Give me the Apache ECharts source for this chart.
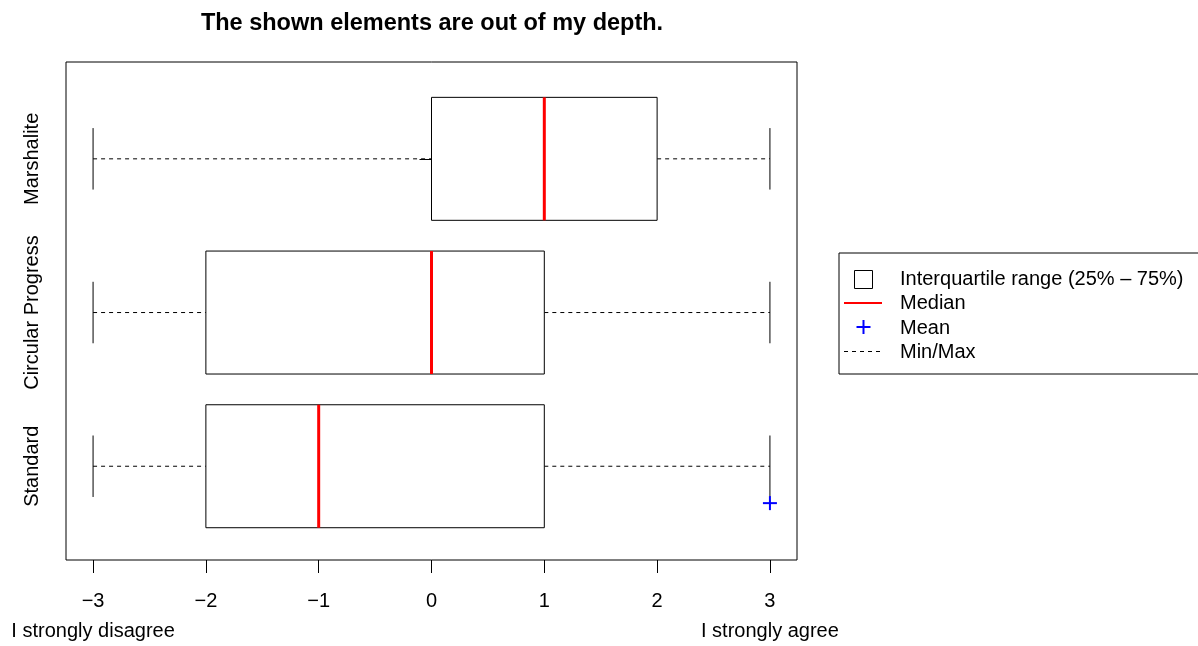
<!DOCTYPE html>
<html>
<head>
<meta charset="utf-8">
<script src="https://cdn.jsdelivr.net/npm/echarts@6/dist/echarts.min.js"></script>
<style>
  html, body { margin: 0; padding: 0; background: #fff; }
  #chart { width: 1198px; height: 646px; }
</style>
</head>
<body>
<div id="chart"></div>
<script>
// Rating scale summary per design
const categories = ['Standard', 'Circular Progress', 'Marshalite'];
const positions = [1, 2, 3];
const minValues = [-3, -3, -3];
const q1Values = [-2, -2, 0];
const medianValues = [-1, 0, 1];
const q3Values = [1, 1, 2];
const maxValues = [3, 3, 3];
// mean marker as plotted (x, y)
const meanMarkers = [[3, 0.76]];
const xTicks = [-3, -2, -1, 0, 1, 2, 3];
const scaleEnds = { '-3': 'I strongly disagree', '3': 'I strongly agree' };
const legendLabels = ['Interquartile range (25% \u2013 75%)', 'Median', 'Mean', 'Min/Max'];

const FONT = 'Liberation Sans, Arial, Helvetica, sans-serif';
const BOX_HALF = 0.4;
const CAP_HALF = 0.2;
const PLUS_HALF = 7;

const rows = positions.map((p, i) => [p, minValues[i], q1Values[i], medianValues[i], q3Values[i], maxValues[i]]);

function whiskerItem(params, api) {
  const y = api.value(0);
  const pMin = api.coord([api.value(1), y]);
  const pQ1 = api.coord([api.value(2), y]);
  const pQ3 = api.coord([api.value(4), y]);
  const pMax = api.coord([api.value(5), y]);
  const capTop = api.coord([api.value(1), y + CAP_HALF])[1];
  const capBot = api.coord([api.value(1), y - CAP_HALF])[1];
  const dash = { stroke: '#000', lineWidth: 1, lineDash: [4, 4] };
  const solid = { stroke: '#000', lineWidth: 1 };
  return {
    type: 'group',
    children: [
      { type: 'line', shape: { x1: pMin[0], y1: pMin[1], x2: pQ1[0], y2: pQ1[1] }, style: dash },
      { type: 'line', shape: { x1: pQ3[0], y1: pQ3[1], x2: pMax[0], y2: pMax[1] }, style: dash },
      { type: 'line', shape: { x1: pMin[0], y1: capTop, x2: pMin[0], y2: capBot }, style: solid },
      { type: 'line', shape: { x1: pMax[0], y1: capTop, x2: pMax[0], y2: capBot }, style: solid }
    ]
  };
}

function boxItem(params, api) {
  const y = api.value(0);
  const tl = api.coord([api.value(2), y + BOX_HALF]);
  const br = api.coord([api.value(4), y - BOX_HALF]);
  return {
    type: 'rect',
    shape: { x: tl[0], y: tl[1], width: br[0] - tl[0], height: br[1] - tl[1] },
    style: { fill: '#fff', stroke: '#000', lineWidth: 1 }
  };
}

function medianItem(params, api) {
  const y = api.value(0);
  const top = api.coord([api.value(3), y + BOX_HALF]);
  const bot = api.coord([api.value(3), y - BOX_HALF]);
  return {
    type: 'line',
    shape: { x1: top[0], y1: top[1], x2: bot[0], y2: bot[1] },
    style: { stroke: '#ff0000', lineWidth: 3 }
  };
}

function meanItem(params, api) {
  const p = api.coord([api.value(0), api.value(1)]);
  const st = { stroke: '#0000ff', lineWidth: 2 };
  return {
    type: 'group',
    children: [
      { type: 'line', shape: { x1: p[0], y1: p[1] - PLUS_HALF, x2: p[0], y2: p[1] + PLUS_HALF }, style: st },
      { type: 'line', shape: { x1: p[0] - PLUS_HALF, y1: p[1], x2: p[0] + PLUS_HALF, y2: p[1] }, style: st }
    ]
  };
}

// legend block beside the plot
const lx = 839, ly = 253, rowGap = 24.5, textX = 900;
const legendChildren = [
  { type: 'rect', shape: { x: lx, y: ly, width: 400, height: 121 }, style: { fill: '#fff', stroke: '#000', lineWidth: 1 } },
  { type: 'rect', shape: { x: 854.5, y: 270.5, width: 18, height: 18 }, style: { fill: '#fff', stroke: '#000', lineWidth: 1 } },
  { type: 'line', shape: { x1: 844, y1: 303, x2: 882, y2: 303 }, style: { stroke: '#ff0000', lineWidth: 2 } },
  { type: 'line', shape: { x1: 863.5, y1: 320, x2: 863.5, y2: 334 }, style: { stroke: '#0000ff', lineWidth: 2 } },
  { type: 'line', shape: { x1: 856.5, y1: 327, x2: 870.5, y2: 327 }, style: { stroke: '#0000ff', lineWidth: 2 } },
  { type: 'line', shape: { x1: 844, y1: 351.5, x2: 882, y2: 351.5 }, style: { stroke: '#000', lineWidth: 1, lineDash: [4, 4] } }
];
legendLabels.forEach((t, i) => {
  legendChildren.push({
    type: 'text',
    style: { x: textX, y: 279 + i * rowGap, text: t, fill: '#000', font: '20px ' + FONT, textVerticalAlign: 'middle' }
  });
});

const chart = echarts.init(document.getElementById('chart'), null, { renderer: 'canvas' });
chart.setOption({
  animation: false,
  backgroundColor: '#fff',
  title: {
    text: 'The shown elements are out of my depth.',
    left: 427,
    top: 7,
    textAlign: 'center',
    textStyle: { fontFamily: FONT, fontSize: 23.5, fontWeight: 'bold', color: '#000' }
  },
  grid: {
    left: 66, right: 401, top: 62, bottom: 82,
    show: true, borderColor: '#000', borderWidth: 1, backgroundColor: 'transparent',
    containLabel: false
  },
  xAxis: {
    type: 'value',
    min: -3.24,
    max: 3.24,
    splitLine: { show: false },
    axisLine: { show: false },
    axisTick: { show: true, length: 13, customValues: xTicks, lineStyle: { color: '#000', width: 1 } },
    axisLabel: {
      customValues: xTicks,
      margin: 26,
      color: '#000',
      fontFamily: FONT,
      fontSize: 20,
      lineHeight: 30,
      formatter: v => {
        const s = (v < 0 ? '\u2212' + Math.abs(v) : String(v));
        const end = scaleEnds[String(v)];
        return end ? s + '\n' + end : s;
      }
    }
  },
  yAxis: {
    type: 'value',
    min: 0.39,
    max: 3.63,
    splitLine: { show: false },
    axisLine: { show: false },
    axisTick: { show: true, length: 12, customValues: positions, lineStyle: { color: '#000', width: 1 } },
    axisLabel: {
      customValues: positions,
      rotate: 90,
      margin: 24,
      color: '#000',
      fontFamily: FONT,
      fontSize: 20,
      formatter: v => categories[positions.indexOf(v)]
    }
  },
  series: [
    { type: 'custom', name: legendLabels[3], renderItem: whiskerItem, data: rows, encode: { x: [1, 2, 3, 4, 5], y: 0 }, z: 2 },
    { type: 'custom', name: legendLabels[0], renderItem: boxItem, data: rows, encode: { x: [1, 2, 3, 4, 5], y: 0 }, z: 3 },
    { type: 'custom', name: legendLabels[1], renderItem: medianItem, data: rows, encode: { x: [1, 2, 3, 4, 5], y: 0 }, z: 4 },
    { type: 'custom', name: legendLabels[2], renderItem: meanItem, data: meanMarkers, encode: { x: 0, y: 1 }, clip: true, z: 5 }
  ],
  graphic: [{ type: 'group', silent: true, children: legendChildren }]
});
</script>
</body>
</html>
